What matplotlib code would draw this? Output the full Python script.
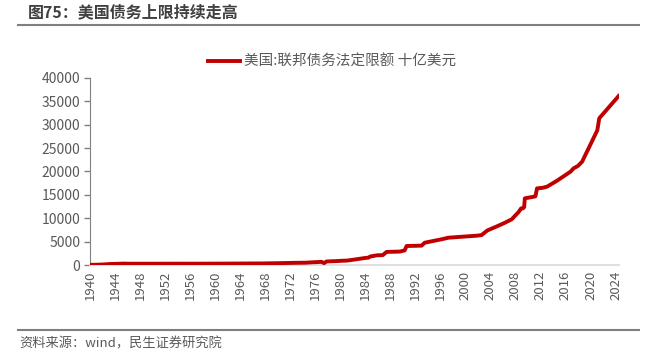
import matplotlib
matplotlib.use("Agg")
import matplotlib.pyplot as plt
from matplotlib.lines import Line2D

plt.rcParams['font.family'] = ['Noto Sans CJK SC', 'DejaVu Sans']

# debt limit, billions USD (fractional year)
years = [1940.0, 1940.5, 1941.2, 1942.3, 1943.2, 1944.5, 1945.3, 1946.5, 1954.7, 1956.5,
         1958.7, 1959.5, 1961.5, 1962.5, 1963.5, 1964.5, 1965.5, 1967.5, 1968.2, 1969.5,
         1971.5, 1972.8, 1974.5, 1975.5, 1976.5, 1977.0, 1977.4, 1977.8, 1978.5, 1979.3,
         1980.5, 1981.0, 1981.8, 1982.9, 1983.9, 1984.5, 1984.8, 1985.9, 1986.8, 1987.4,
         1989.5, 1990.3, 1990.6, 1993.0, 1993.5, 1996.2, 1997.3, 2001.8, 2002.6, 2003.5,
         2004.9, 2006.2, 2007.4, 2008.0, 2008.5, 2008.9, 2009.2, 2009.4, 2009.5, 2010.9,
         2011.2, 2011.45, 2012.3, 2013.05, 2014.65, 2016.8, 2017.3, 2018.0, 2018.66,
         2021.06, 2021.1, 2021.4, 2024.5]
limit = [45, 49, 65, 125, 210, 260, 300, 275, 281, 278,
         288, 295, 298, 308, 309, 324, 328, 336, 358, 377,
         430, 465, 495, 577, 636, 682, 400, 752, 798, 830,
         925, 935, 1079, 1290, 1490, 1573, 1824, 2079, 2111, 2800,
         2870, 3123, 4060, 4145, 4770, 5500, 5840, 6270, 6400, 7384,
         8184, 8965, 9770, 10615, 11315, 12104, 12120, 12394, 14260, 14600,
         14694, 16394, 16500, 16750, 18030, 19960, 20680, 21200, 22100,
         28730, 28881, 31380, 36150]

xticks = list(range(1940, 2025, 4))
yticks = list(range(0, 40001, 5000))
red = "#C00000"
gray = "#595959"

fig = plt.figure(figsize=(6.49, 3.54), dpi=100)
ax = fig.add_axes([0.1387, 0.2514, 0.8155, 0.5283])

ax.plot(years, limit, color=red, lw=2.8, solid_joinstyle="round", zorder=3)

ax.set_xlim(1940, 2024.6)
ax.set_ylim(0, 40000)
ax.set_xticks(xticks)
ax.set_xticklabels([str(x) for x in xticks], rotation=90, fontsize=9.5, color=gray)
ax.set_yticks(yticks)
ax.set_yticklabels([str(y) for y in yticks], fontsize=10, color=gray)
ax.tick_params(axis="x", length=0, pad=4)
ax.tick_params(axis="y", length=4, width=1, color="#808080", pad=3)

for s in ["top", "right"]:
    ax.spines[s].set_visible(False)
ax.spines["left"].set_color("#808080")
ax.spines["bottom"].set_color("#d9d9d9")
ax.spines["bottom"].set_linewidth(1.2)

handle = Line2D([], [], color=red, lw=2.8)
fig.legend([handle], ["美国:联邦债务法定限额 十亿美元"], loc="center",
           bbox_to_anchor=(0.512, 0.826), frameon=False, fontsize=10.5,
           handlelength=2.2, handletextpad=0.25, labelcolor=gray)

fig.text(0.043, 0.988, "图75：美国债务上限持续走高", fontsize=11.5, fontweight="bold",
         color="#404040", va="top")
fig.add_artist(Line2D([0.028, 0.985], [0.929, 0.929], color="#7f7f7f", lw=1.5))
fig.add_artist(Line2D([0.028, 0.985], [0.068, 0.068], color="#7f7f7f", lw=1.5))
fig.text(0.03, 0.028, "资料来源：wind，民生证券研究院", fontsize=9.5, color=gray, va="center")

fig.savefig("out.png", dpi=100)
